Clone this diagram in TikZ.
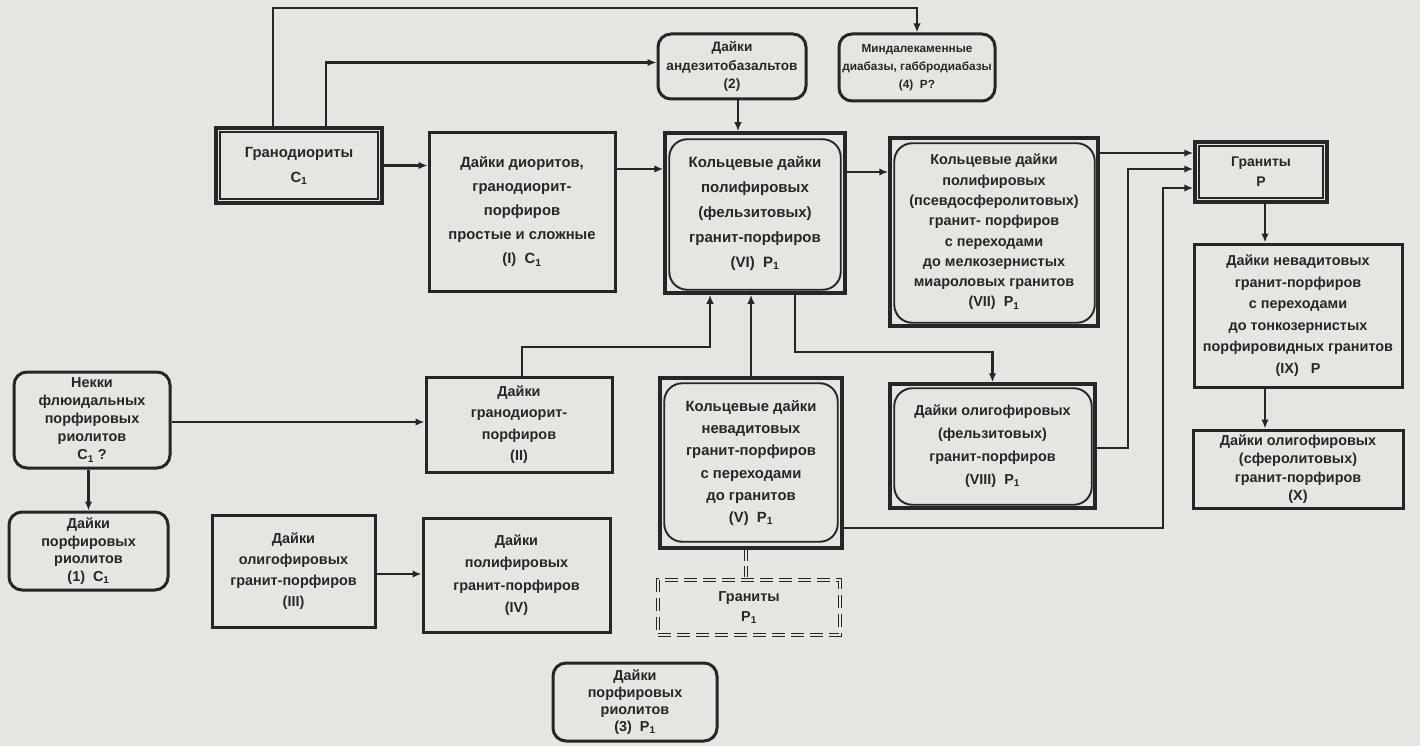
\documentclass[tikz,border=0pt]{standalone}
\usepackage{fontspec}
\setmainfont{Liberation Sans}
\usetikzlibrary{arrows.meta,calc}
\definecolor{ink}{HTML}{262626}
\definecolor{paper}{HTML}{E5E6E1}
\newcommand\fsz[2]{\fontsize{#1}{#2}\selectfont\bfseries}
\newcommand\sub[1]{\textsubscript{#1}}
\tikzset{
 base/.style={draw=ink, align=center, inner sep=0pt, text=ink},
 plainbox/.style={base, rectangle, line width=3pt},
 roundbox/.style={base, rectangle, rounded corners=13pt, line width=3pt},
 outerbox/.style={base, rectangle, line width=3.5pt},
 dashbox/.style={base, rectangle, line width=1.3pt, double=paper, double distance=2.2pt, dash pattern=on 13pt off 6pt},
 innerround/.style={draw=ink, line width=1.9pt, rounded corners=18pt},
 innerrect/.style={draw=ink, line width=1.8pt},
 arr/.style={draw=ink, line width=2.3pt, -{Latex[length=9pt,width=7.5pt]}},
 dblline/.style={draw=ink, line width=1.3pt, double=paper, double distance=2.2pt, dash pattern=on 11pt off 5pt},
}
\begin{document}
\begin{tikzpicture}[x=1pt,y=-1pt]
\fill[paper] (0,0) rectangle (1420,746);
\useasboundingbox (0,0) rectangle (1420,746);

% nodes
\node[outerbox, minimum width=166pt, minimum height=75pt, font=\fsz{14.8}{25}] (gd) at (299,165.5) {Гранодиориты\\C\sub{1}};
\node[plainbox, minimum width=186pt, minimum height=158pt, font=\fsz{14.8}{24}] (dI) at (522,212) {Дайки диоритов,\\гранодиорит-\\порфиров\\простые и сложные\\(I)\ \ C\sub{1}};
\node[roundbox, minimum width=148pt, minimum height=65pt, font=\fsz{13.6}{18.5}] (and) at (732,66.5) {Дайки\\андезитобазальтов\\(2)};
\node[roundbox, minimum width=156pt, minimum height=67pt, font=\fsz{11.8}{18}] (mind) at (917,67.5) {Миндалекаменные\\диабазы, габбродиабазы\\(4)\ \ P?};
\node[outerbox, minimum width=180pt, minimum height=160pt, font=\fsz{15}{25}] (vi) at (755,213) {Кольцевые дайки\\полифировых\\(фельзитовых)\\гранит-порфиров\\(VI)\ \ P\sub{1}};
\node[outerbox, minimum width=208pt, minimum height=188pt, font=\fsz{14.4}{20.3}] (vii) at (994,232) {Кольцевые дайки\\полифировых\\(псевдосферолитовых)\\гранит- порфиров\\с переходами\\до мелкозернистых\\миароловых гранитов\\(VII)\ \ P\sub{1}};
\node[outerbox, minimum width=132pt, minimum height=60pt, font=\fsz{14}{20}] (grP) at (1261,172) {Граниты\\P};
\node[plainbox, minimum width=208pt, minimum height=143pt, font=\fsz{14.4}{21.5}] (ix) at (1298,315.5) {Дайки невадитовых\\гранит-порфиров\\с переходами\\до тонкозернистых\\порфировидных гранитов\\(IX)\ \ \ P};
\node[plainbox, minimum width=210pt, minimum height=78pt, font=\fsz{14.4}{18.3}] (x) at (1298,469) {Дайки олигофировых\\(сферолитовых)\\гранит-порфиров\\(X)};
\node[outerbox, minimum width=205pt, minimum height=124pt, font=\fsz{14.4}{23}] (viii) at (992.5,446) {Дайки олигофировых\\(фельзитовых)\\гранит-порфиров\\(VIII)\ \ P\sub{1}};
\node[outerbox, minimum width=182pt, minimum height=170pt, font=\fsz{14.8}{22.2}] (v) at (751,463) {Кольцевые дайки\\невадитовых\\гранит-порфиров\\с переходами\\до гранитов\\(V)\ \ P\sub{1}};
\node[dashbox, minimum width=182pt, minimum height=55pt, font=\fsz{14.4}{20}] (gp1) at (749,607.5) {Граниты\\P\sub{1}};
\node[plainbox, minimum width=186pt, minimum height=95pt, font=\fsz{14.4}{21.3}] (ii) at (519,424.5) {Дайки\\гранодиорит-\\порфиров\\(II)};
\node[roundbox, minimum width=156pt, minimum height=96pt, font=\fsz{14.4}{18}] (nek) at (92,420) {Некки\\флюидальных\\порфировых\\риолитов\\C\sub{1} ?};
\node[roundbox, minimum width=159pt, minimum height=78pt, font=\fsz{14.4}{17.5}] (d1) at (88.5,551) {Дайки\\порфировых\\риолитов\\(1)\ \ C\sub{1}};
\node[plainbox, minimum width=163pt, minimum height=112pt, font=\fsz{14.4}{21}] (iii) at (293.5,571) {Дайки\\олигофировых\\гранит-порфиров\\(III)};
\node[plainbox, minimum width=187pt, minimum height=114pt, font=\fsz{14.4}{22.5}] (iv) at (516.5,575) {Дайки\\полифировых\\гранит-порфиров\\(IV)};
\node[roundbox, minimum width=164pt, minimum height=78pt, font=\fsz{14.4}{17}] (d3) at (635,702) {Дайки\\порфировых\\риолитов\\(3)\ \ P\sub{1}};

% inner frames
\draw[innerrect] ([shift={(6,6)}]gd.north west) rectangle ([shift={(-6,-6)}]gd.south east);
\draw[innerrect] ([shift={(6,6)}]grP.north west) rectangle ([shift={(-6,-6)}]grP.south east);
\draw[innerround] ([shift={(6,8)}]vi.north west) rectangle ([shift={(-6,-5)}]vi.south east);
\draw[innerround] ([shift={(6,7)}]vii.north west) rectangle ([shift={(-5,-5)}]vii.south east);
\draw[innerround] ([shift={(6,6)}]viii.north west) rectangle ([shift={(-5,-5)}]viii.south east);
\draw[innerround] ([shift={(6,7)}]v.north west) rectangle ([shift={(-6,-8)}]v.south east);

% helper coordinates
\coordinate (t1) at (0,8);
\coordinate (k2) at (1128,169);
\coordinate (k3) at (1163,188);
\coordinate (colx) at (1265,0);
\coordinate (k4) at (795,352);
\coordinate (k5) at (710,347);

% connectors
\draw[arr] ([xshift=59pt]gd.north west) |- (t1 -| mind.north) -- (mind.north);
\draw[arr] ([xshift=112pt]gd.north west) |- ([yshift=4pt]and.west);
\draw[arr] (gd.east) -- (gd.east -| dI.west);
\draw[arr] ([yshift=43pt]dI.east) -- ([yshift=43pt]dI.east -| vi.west);
\draw[arr] ([xshift=6pt]and.south) -- ([xshift=6pt]and.south |- vi.north);
\draw[arr] ([yshift=41pt]vi.east) -- ([yshift=41pt]vi.east -| vii.west);
\draw[arr] ([yshift=79pt]vii.east) -- ([yshift=79pt]vii.east -| grP.west);
\draw[arr] ([yshift=-2pt]viii.east) -| (k2) -- (k2 -| grP.west);
\draw[arr] ([yshift=-65pt]v.east) -| (k3) -- (k3 -| grP.west);
\draw[arr] (colx |- grP.south) -- (colx |- ix.north);
\draw[arr] (colx |- ix.south) -- (colx |- x.north);
\draw[arr] (k4 |- vi.south) |- (k4) -| (viii.north);
\draw[arr] ([xshift=3pt]ii.north) |- (k5) -- (k5 |- vi.south);
\draw[arr] (v.north) -- (v.north |- vi.south);
\draw[arr] ([yshift=-2pt]nek.east) -- ([yshift=-2pt]nek.east -| ii.west);
\draw[arr] (nek.south -| d1.north) -- (d1.north);
\draw[arr] ([yshift=-3pt]iii.east) -- ([yshift=-3pt]iii.east -| iv.west);
\draw[dblline] ([xshift=-5pt]v.south) -- ([xshift=-5pt]v.south |- gp1.north);
\end{tikzpicture}
\end{document}
